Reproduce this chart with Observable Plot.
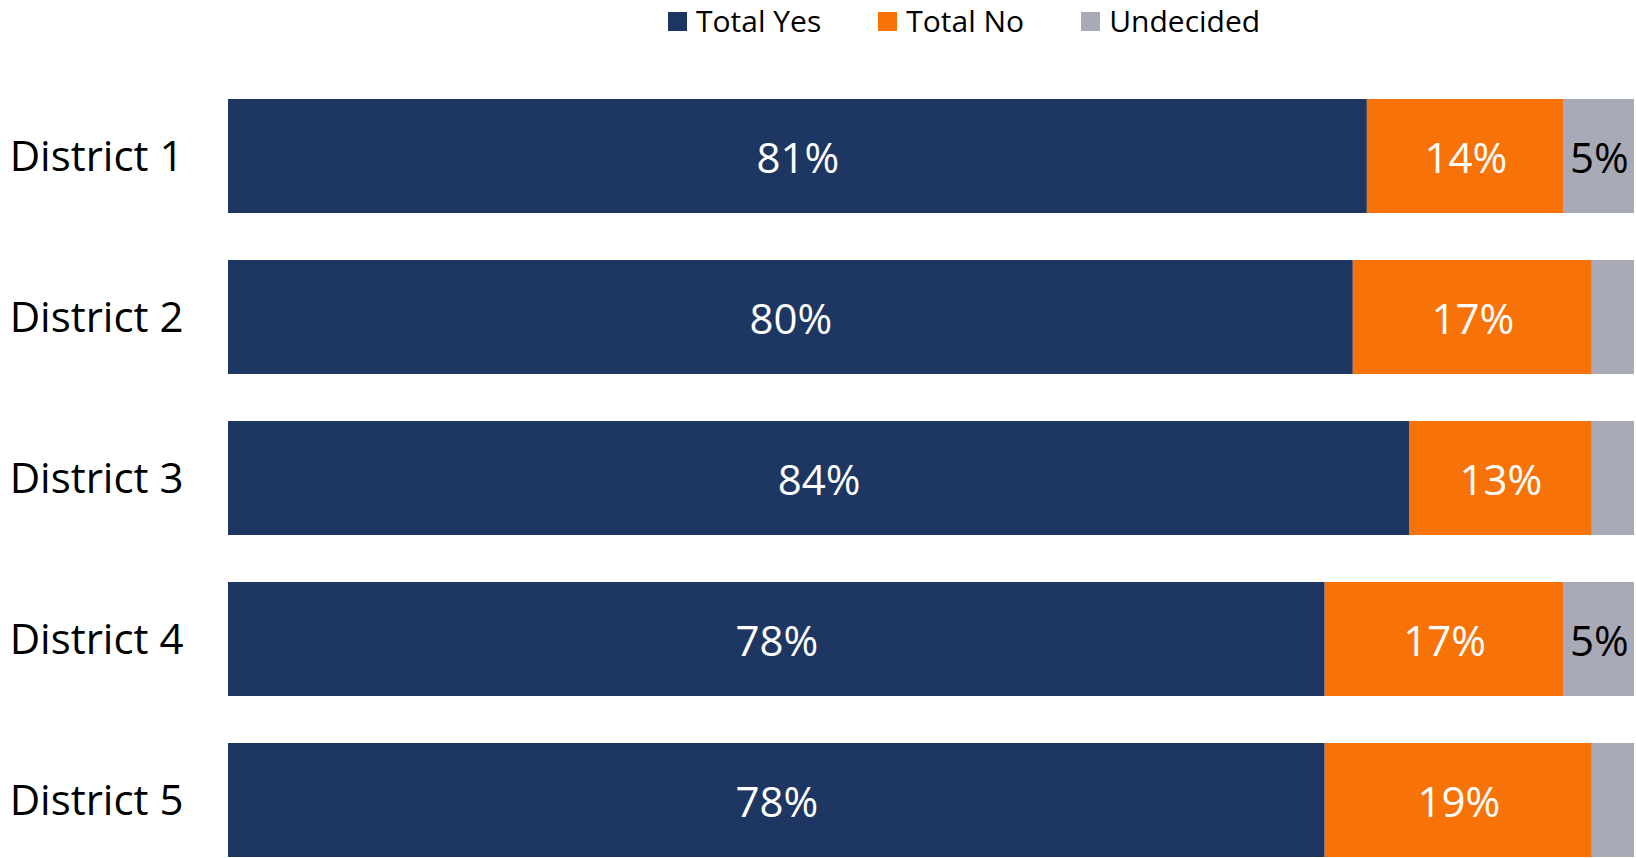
<!DOCTYPE html>
<html>
<head>
<meta charset="utf-8">
<script src="https://cdn.jsdelivr.net/npm/d3@7"></script>
<script src="https://cdn.jsdelivr.net/npm/@observablehq/plot@0.6"></script>
<style>
  html, body { margin: 0; padding: 0; background: #fff; overflow: hidden; }
  body { width: 1636px; height: 858px; font-family: "Open Sans", sans-serif; }
  #legend { height: 42px; position: relative; display: flex; align-items: center; padding-left: 668px; box-sizing: border-box; }
  .item { display: flex; align-items: center; margin-right: 57px; font-size: 30px; color: #000; line-height: 1; }
  .sw { width: 19px; height: 19px; margin-right: 9px; }
  svg { display: block; }
</style>
</head>
<body>
<div id="legend"></div>
<div id="chart"></div>
<script>
const districts = ["District 1", "District 2", "District 3", "District 4", "District 5"];
const categories = ["Total Yes", "Total No", "Undecided"];
const colors = ["#1e3662", "#f77307", "#a9aab7"];
const totalYes = [81, 80, 84, 78, 78];
const totalNo = [14, 17, 13, 17, 19];
const undecided = [5, 3, 3, 5, 3];
const labelColors = ["white", "white", "black"];

const series = [totalYes, totalNo, undecided];
const data = [];
districts.forEach((d, i) => {
  categories.forEach((c, j) => {
    data.push({district: d, category: c, value: series[j][i], order: j});
  });
});

const legend = document.getElementById("legend");
categories.forEach((c, j) => {
  const it = document.createElement("div");
  it.className = "item";
  it.innerHTML = `<div class="sw" style="background:${colors[j]}"></div><span>${c}</span>`;
  legend.appendChild(it);
});

const chart = Plot.plot({
  width: 1636,
  height: 818,
  marginLeft: 228,
  marginRight: 2,
  marginTop: 55,
  marginBottom: 0,
  style: {fontFamily: "Open Sans, sans-serif", background: "white"},
  x: {domain: [0, 100], axis: null},
  y: {domain: districts, paddingInner: 0.29, paddingOuter: 0, label: null},
  color: {domain: categories, range: colors},
  marks: [
    Plot.barX(data, Plot.stackX({x: "value", y: "district", fill: "category", order: categories})),
    Plot.text(data.filter(d => d.value >= 4), Plot.stackX({
      x: "value", y: "district", z: "category", order: categories,
      text: d => d.value + "%",
      fill: d => labelColors[d.order],
      fontSize: 42,
      dy: 3
    })),
    Plot.axisY({tickSize: 0, tickPadding: 45, fontSize: 42, color: "#000", label: null, dy: 1})
  ]
});
document.getElementById("chart").appendChild(chart);
</script>
</body>
</html>
